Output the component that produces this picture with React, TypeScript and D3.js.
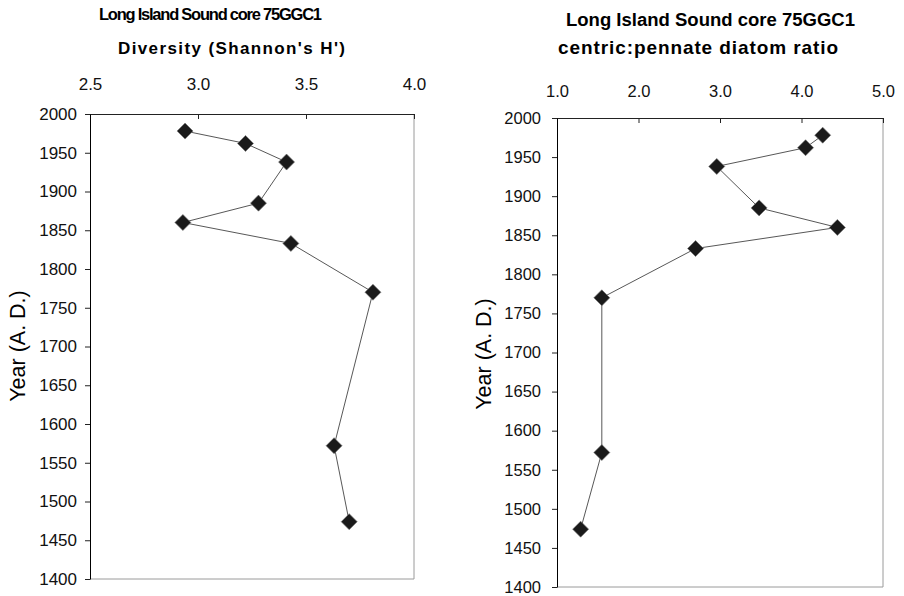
import React from 'react';
import * as d3 from 'd3';

// sample ages (A.D.) for core 75GGC1, top to bottom
const years = [1978, 1962, 1938, 1885, 1860, 1833, 1770, 1572, 1474];
// Shannon's H' diversity
const diversity = [2.94, 3.22, 3.41, 3.28, 2.93, 3.43, 3.81, 3.63, 3.7];
// centric:pennate diatom ratio
const ratio = [4.26, 4.05, 2.96, 3.48, 4.44, 2.7, 1.55, 1.55, 1.29];

const yearTicks = d3.range(1400, 2001, 50);
const diversityTicks = [2.5, 3.0, 3.5, 4.0];
const ratioTicks = [1, 2, 3, 4, 5];

const titleLine1 = 'Long Island Sound core 75GGC1';
const leftTitle2 = "Diversity (Shannon's H')";
const rightTitle2 = 'centric:pennate diatom ratio';
const yLabel = 'Year (A. D.)';

const W = 904;
const H = 596;
const font = '"Liberation Sans", Arial, sans-serif';

type PanelProps = {
  values: number[];
  xDomain: [number, number];
  xTicks: number[];
  left: number;
  right: number;
  top: number;
  bottom: number;
  topPad: number;
  yPad: number;
  tickFont: number;
};

function Panel({ values, xDomain, xTicks, left, right, top, bottom, topPad, yPad, tickFont }: PanelProps) {
  const topRef = React.useRef<SVGGElement>(null);
  const leftRef = React.useRef<SVGGElement>(null);

  const x = d3.scaleLinear().domain(xDomain).range([left, right]);
  const y = d3.scaleLinear().domain([1400, 2000]).range([bottom, top]);

  React.useEffect(() => {
    const gt = d3.select(topRef.current!);
    gt.call(
      d3.axisTop(x).tickValues(xTicks).tickFormat(d3.format('.1f')).tickSize(-5).tickPadding(topPad)
    );
    gt.select('.domain').attr('stroke', '#222');
    gt.selectAll('.tick line').attr('stroke', '#222');
    gt.selectAll('text').attr('font-size', tickFont).attr('font-family', font).attr('fill', '#111');

    const gl = d3.select(leftRef.current!);
    gl.call(d3.axisLeft(y).tickValues(yearTicks).tickFormat(d3.format('d')).tickSize(5).tickPadding(yPad).tickSizeOuter(0));
    gl.select('.domain').attr('stroke', '#000');
    gl.selectAll('.tick line').attr('stroke', '#222');
    gl.selectAll('text').attr('font-size', tickFont).attr('font-family', font).attr('fill', '#111');
  });

  const line = d3
    .line<number>()
    .x((d) => x(d))
    .y((_, i) => y(years[i]));

  const diamond = d3.symbol(d3.symbolSquare, 128)();

  return (
    <g>
      <line x1={right} x2={right} y1={top} y2={bottom} stroke="#9a9a9a" />
      <line x1={left} x2={right} y1={bottom} y2={bottom} stroke="#9a9a9a" />
      <g ref={topRef} transform={`translate(0,${top})`} />
      <g ref={leftRef} transform={`translate(${left},0)`} />
      <path d={line(values) ?? ''} fill="none" stroke="#444" strokeWidth={0.9} />
      {values.map((v, i) => (
        <path
          key={i}
          d={diamond ?? ''}
          transform={`translate(${x(v)},${y(years[i])}) rotate(45)`}
          fill="#1a1a1a"
          stroke="#777"
          strokeWidth={0.6}
        />
      ))}
    </g>
  );
}

export default function App() {
  return (
    <svg width={W} height={H} style={{ position: 'absolute', left: 0, top: 0, background: '#fff' }} fontFamily={font}>
      <rect width={W} height={H} fill="#fff" />

      {/* left chart */}
      <text x={99} y={20} fontSize={16.5} fontWeight="bold" textLength={223} lengthAdjust="spacing">
        {titleLine1}
      </text>
      <text x={118} y={54} fontSize={17} fontWeight="bold" textLength={227} lengthAdjust="spacing">
        {leftTitle2}
      </text>
      <text transform="translate(25,346) rotate(-90)" textAnchor="middle" fontSize={21.5}>
        {yLabel}
      </text>
      <Panel
        values={diversity}
        xDomain={[2.5, 4.0]}
        xTicks={diversityTicks}
        left={90}
        right={414}
        top={114}
        bottom={579}
        topPad={24}
        yPad={8}
        tickFont={17}
      />

      {/* right chart */}
      <text x={566} y={26} fontSize={18} fontWeight="bold" textLength={289} lengthAdjust="spacingAndGlyphs">
        {titleLine1}
      </text>
      <text x={558} y={54} fontSize={19} fontWeight="bold" textLength={280} lengthAdjust="spacing">
        {rightTitle2}
      </text>
      <text transform="translate(491,354) rotate(-90)" textAnchor="middle" fontSize={21.5}>
        {yLabel}
      </text>
      <Panel
        values={ratio}
        xDomain={[1, 5]}
        xTicks={ratioTicks}
        left={557}
        right={883}
        top={118}
        bottom={587}
        topPad={21}
        yPad={11}
        tickFont={16.5}
      />
    </svg>
  );
}
